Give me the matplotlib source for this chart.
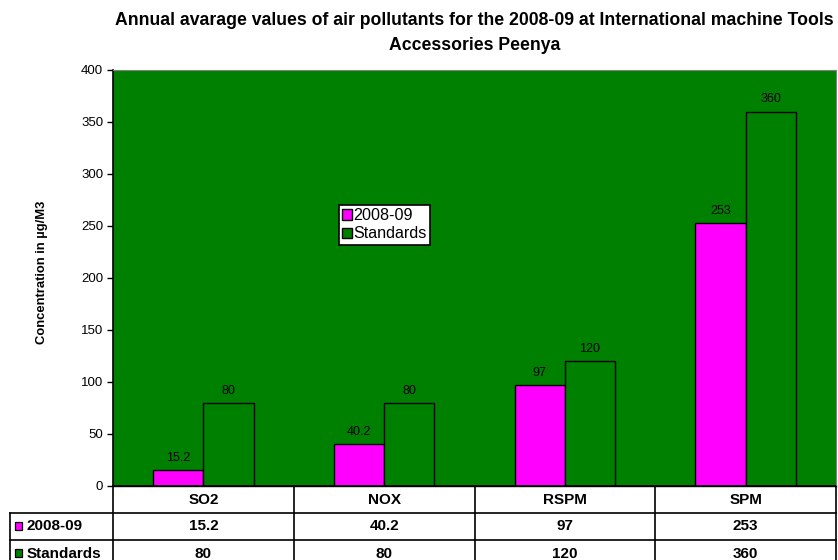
import matplotlib
matplotlib.use("Agg")
import matplotlib.pyplot as plt
import matplotlib.transforms as mtransforms
import numpy as np
from matplotlib.patches import Rectangle
from matplotlib.lines import Line2D

plt.rcParams['font.family'] = ['Liberation Sans', 'DejaVu Sans']

categories = ["SO2", "NOX", "RSPM", "SPM"]
series_names = ["2008-09", "Standards"]
values_2008 = [15.2, 40.2, 97, 253]
values_std = [80, 80, 120, 360]
labels_2008 = ["15.2", "40.2", "97", "253"]
labels_std = ["80", "80", "120", "360"]
colors = ["#FF00FF", "#008000"]

fig = plt.figure(figsize=(8.38, 5.6), dpi=100)
W, H = 838, 560
L, R, T, B = 113, 836, 70, 486
ax = fig.add_axes([L / W, 1 - B / H, (R - L) / W, (B - T) / H])
ax.set_facecolor("#008000")

x = np.arange(len(categories))
bw = 0.278
b1 = ax.bar(x - bw / 2, values_2008, bw, color=colors[0], edgecolor="black", linewidth=1, label=series_names[0])
b2 = ax.bar(x + bw / 2, values_std, bw, color=colors[1], edgecolor="black", linewidth=1, label=series_names[1])
for rect, lab in zip(b1, labels_2008):
    ax.text(rect.get_x() + rect.get_width() / 2, rect.get_height() + 6, lab, ha="center", va="bottom", fontsize=9)
for rect, lab in zip(b2, labels_std):
    ax.text(rect.get_x() + rect.get_width() / 2, rect.get_height() + 6, lab, ha="center", va="bottom", fontsize=9)

ax.set_xlim(-0.5, len(categories) - 0.5)
ax.set_ylim(0, 400)
ax.set_yticks(np.arange(0, 401, 50))
ax.tick_params(axis="y", labelsize=9.5, length=4, width=1, direction="out", pad=3)
ax.set_xticks([])
for s in ["top", "right"]:
    ax.spines[s].set_color("#808080")
ax.spines["left"].set_linewidth(1.2)
ax.spines["bottom"].set_linewidth(1.0)
ax.set_ylabel("Concentration in µg/M3", fontsize=9.4, fontweight="bold", labelpad=24)
ax.yaxis.label.set_y((B - 272) / (B - T))

ax.set_title("Annual avarage values of air pollutants for the 2008-09 at International machine Tools\nAccessories Peenya",
             fontsize=12.7, fontweight="bold", pad=14.5, linespacing=1.6)

leg = ax.legend(loc="upper left", bbox_to_anchor=((339 - L) / (R - L), (B - 205) / (B - T)),
                fontsize=11.6, frameon=True, fancybox=False, edgecolor="black", framealpha=1,
                handlelength=0.6, handleheight=0.6, handletextpad=0.1, borderpad=0.2,
                labelspacing=0.2, borderaxespad=0)
leg.get_frame().set_linewidth(1.2)

# data table (drawn below the axes): x in data units, y in axes units
trans = mtransforms.blended_transform_factory(ax.transData, ax.transAxes)
row_h = 27 / (B - T)
px = len(categories) / (R - L)  # data units per pixel
x_left_lab = ax.get_xlim()[0] - (L - 10) * px
bounds = np.arange(len(categories) + 1) - 0.5
tfs = 11
lk = dict(color="black", linewidth=1.2, transform=trans, clip_on=False)
for i in range(4):
    y = -i * row_h
    x0 = bounds[0] if i == 0 else x_left_lab
    ax.add_line(Line2D([x0, bounds[-1]], [y, y], **lk))
for bx in bounds:
    ax.add_line(Line2D([bx, bx], [0, -3 * row_h], **lk))
ax.add_line(Line2D([x_left_lab, x_left_lab], [-row_h, -3 * row_h], **lk))
for xi, cat in zip(x, categories):
    ax.text(xi, -0.5 * row_h, cat, transform=trans, ha="center", va="center",
            fontsize=tfs, fontweight="bold", clip_on=False)
for i, (name, labs, col) in enumerate(zip(series_names, [labels_2008, labels_std], colors)):
    yc = -(1.5 + i) * row_h
    for xi, lab in zip(x, labs):
        ax.text(xi, yc, lab, transform=trans, ha="center", va="center",
                fontsize=tfs, fontweight="bold", clip_on=False)
    ax.add_patch(Rectangle((x_left_lab + 5 * px, yc - 3 / (B - T)), 7 * px, 8 / (B - T),
                           transform=trans, facecolor=col, edgecolor="black", linewidth=0.9,
                           clip_on=False, zorder=5))
    ax.text(x_left_lab + 17 * px, yc, name, transform=trans, ha="left", va="center",
            fontsize=tfs, fontweight="bold", clip_on=False)

fig.savefig("out.png", dpi=100)
